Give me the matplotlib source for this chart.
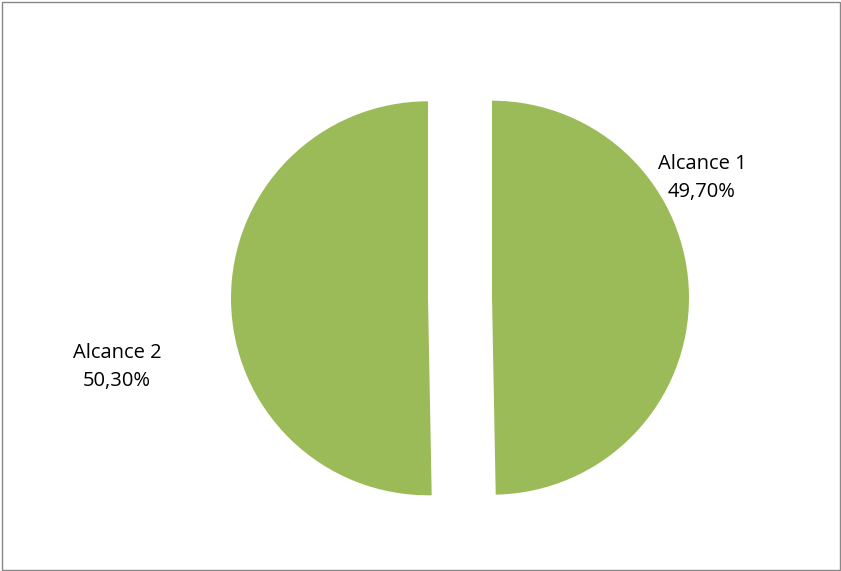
import matplotlib.pyplot as plt
from matplotlib.patches import Rectangle

labels = ['Alcance 1', 'Alcance 2']
values = [49.70, 50.30]
colors = ['#9BBB59', '#9BBB59']

plt.rcParams['font.family'] = ['Open Sans', 'DejaVu Sans']

fig = plt.figure(figsize=(8.41, 5.71), dpi=100)
ax = fig.add_axes([0, 0, 1, 1])

r = 197
# explode is in data units here (pixels)
wedges, _ = ax.pie(values, colors=colors, startangle=90, counterclock=False,
                   explode=[32, 32], radius=r, center=(460, 273),
                   frame=True, wedgeprops=dict(linewidth=0))
ax.set_xlim(0, 841)
ax.set_ylim(0, 571)
ax.set_aspect('equal')
ax.axis('off')

# data labels, placed like the original "best fit" ones
label_pos = [(702, 393), (117, 204)]
for (x, y), name, v in zip(label_pos, labels, values):
    txt = f'{v:.2f}'.replace('.', ',') + '%'
    ax.text(x, y, f'{name}\n{txt}', ha='center', va='center', fontsize=14.5,
            linespacing=1.5, color='black')

fig.patches.append(Rectangle((1.5, 1.5), 838, 568, transform=None, fill=False,
                             edgecolor='#888888', linewidth=1))

fig.savefig('out.png', dpi=100)
